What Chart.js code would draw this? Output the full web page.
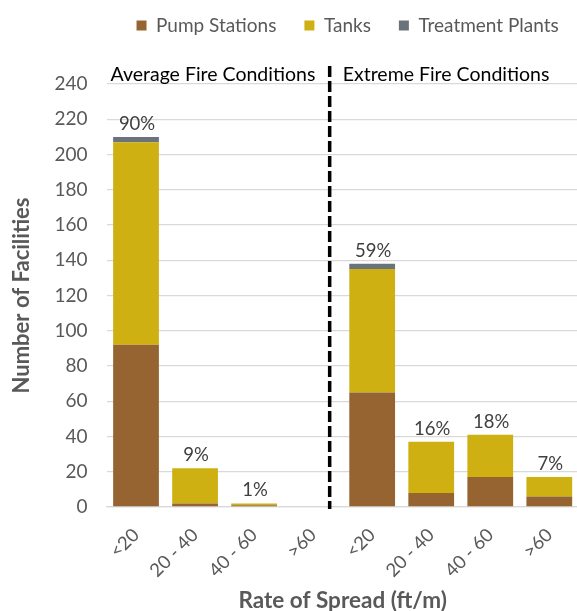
<!DOCTYPE html>
<html>
<head>
<meta charset="utf-8">
<title>Facilities by rate of spread</title>
<script src="https://cdn.jsdelivr.net/npm/chart.js@4.4.1/dist/chart.umd.min.js"></script>
<style>
  html, body { margin: 0; padding: 0; background: #fff; overflow: hidden; }
  #wrap { position: relative; width: 582px; height: 611px; }
</style>
</head>
<body>
<div id="wrap"><canvas id="chart"></canvas></div>
<script>
// ---- data ----
const categories      = ['<20', '20 - 40', '40 - 60', '>60', '<20', '20 - 40', '40 - 60', '>60'];
const pumpStations    = [92, 2, 1, 0, 65, 8, 17, 6];
const tanks           = [115, 20, 1, 0, 70, 29, 24, 11];
const treatmentPlants = [3, 0, 0, 0, 3, 0, 0, 0];
const shareLabels     = ['90%', '9%', '1%', '', '59%', '16%', '18%', '7%'];
const groupNames      = ['Average Fire Conditions', 'Extreme Fire Conditions'];
const yMax  = 240;
const yStep = 20;
const dividerAt = 3.28;   // position of the dashed divider, in category units

const FONT = 'Lato, "Open Sans", sans-serif';
const GREY = '#595959';

// dashed divider, group captions and percentage labels
const overlays = {
  id: 'overlays',
  afterDatasetsDraw(chart) {
    const { ctx, chartArea } = chart;
    const x = chart.scales.x, y = chart.scales.y;
    const dx = x.getPixelForValue(dividerAt);

    ctx.save();
    // divider
    ctx.strokeStyle = '#000';
    ctx.lineWidth = 3.5;
    ctx.setLineDash([11, 4]);
    ctx.beginPath();
    ctx.moveTo(dx, chartArea.top - 18);
    ctx.lineTo(dx, chartArea.bottom + 2);
    ctx.stroke();
    ctx.setLineDash([]);

    // group captions
    ctx.fillStyle = '#000';
    ctx.font = '19.5px ' + FONT;
    ctx.textBaseline = 'middle';
    ctx.textAlign = 'left';
    ctx.fillText(groupNames[0], chartArea.left + 4, chartArea.top - 9);
    ctx.fillText(groupNames[1], dx + 13, chartArea.top - 9);

    // share of total above each stack
    ctx.fillStyle = '#404040';
    ctx.font = '18.5px ' + FONT;
    ctx.textAlign = 'center';
    ctx.textBaseline = 'alphabetic';
    categories.forEach((c, i) => {
      if (!shareLabels[i]) return;
      const total = pumpStations[i] + tanks[i] + treatmentPlants[i];
      ctx.fillText(shareLabels[i], x.getPixelForValue(i) + 1, y.getPixelForValue(total) - 7);
    });
    ctx.restore();
  }
};

// centre the legend over the plot area and lift it towards the top edge
const legendShift = {
  id: 'legendShift',
  afterLayout(chart) {
    const lg = chart.legend, ca = chart.chartArea;
    const d = (ca.left + ca.right) / 2 - (lg.left + lg.right) / 2 + 5;
    lg.left += d;
    lg.right += d;
    lg.top -= 39;
    lg.bottom -= 39;
  }
};

new Chart(document.getElementById('chart'), {
  type: 'bar',
  data: {
    labels: categories,
    datasets: [
      { label: 'Pump Stations',    data: pumpStations,    backgroundColor: '#956430' },
      { label: 'Tanks',            data: tanks,           backgroundColor: '#CFB013' },
      { label: 'Treatment Plants', data: treatmentPlants, backgroundColor: '#6B737A' },
    ],
  },
  options: {
    responsive: true,
    maintainAspectRatio: false,
    animation: false,
    devicePixelRatio: 1,
    layout: { padding: { top: 27, right: 0, bottom: -3, left: 9 } },
    datasets: {
      bar: { categoryPercentage: 1, barPercentage: 0.775, borderWidth: 0 },
    },
    plugins: {
      legend: {
        position: 'top',
        labels: {
          boxWidth: 10, boxHeight: 10, padding: 28,
          color: GREY, font: { family: FONT, size: 19 },
        },
      },
      tooltip: { enabled: false },
    },
    scales: {
      x: {
        stacked: true,
        grid: { display: false, drawTicks: false },
        border: { color: '#d9d9d9', width: 1.3 },
        ticks: {
          color: GREY, font: { family: FONT, size: 18.5 },
          minRotation: 45, maxRotation: 45, padding: 17, labelOffset: 0,
        },
        title: {
          display: true, text: 'Rate of Spread (ft/m)',
          color: GREY, font: { family: FONT, size: 22.5, weight: 'bold' },
          padding: 0,
        },
        afterFit(scale) { scale.height = 107; },
      },
      y: {
        stacked: true,
        min: 0, max: yMax,
        grid: { color: '#d9d9d9', lineWidth: 1.3, drawTicks: false },
        border: { display: false },
        ticks: {
          stepSize: yStep,
          color: GREY, font: { family: FONT, size: 19 },
          padding: 19,
        },
        title: {
          display: true, text: 'Number of Facilities',
          color: GREY, font: { family: FONT, size: 22, weight: 'bold' },
          padding: 0,
        },
        afterFit(scale) { scale.width = 97.5; },
      },
    },
  },
  plugins: [overlays, legendShift],
});
</script>
</body>
</html>
